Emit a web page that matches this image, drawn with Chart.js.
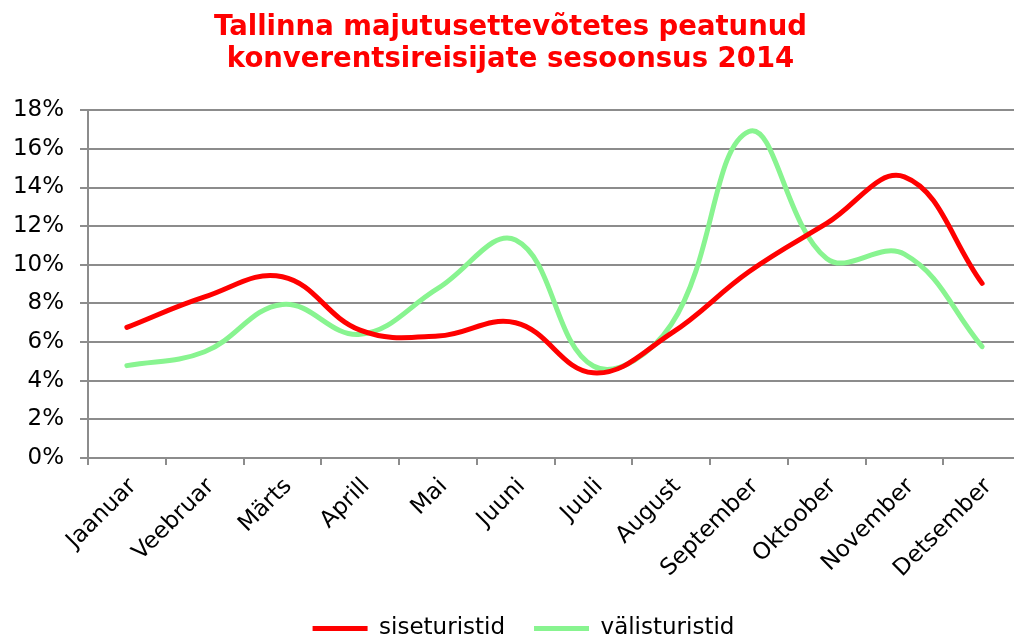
<!DOCTYPE html>
<html>
<head>
<meta charset="utf-8">
<script src="https://cdn.jsdelivr.net/npm/chart.js@4"></script>
<style>
  html, body { margin: 0; padding: 0; background: #fff; overflow: hidden; }
  #wrap { width: 1030px; height: 641px; }
</style>
</head>
<body>
<div id="wrap"><canvas id="chart" width="1030" height="641"></canvas></div>
<script>
const kuud = ["Jaanuar", "Veebruar", "Märts", "Aprill", "Mai", "Juuni", "Juuli",
  "August", "September", "Oktoober", "November", "Detsember"];
const siseturistid = [6.76, 8.34, 9.38, 6.62, 6.31, 7.0, 4.41, 6.45, 9.64, 12.14, 14.55, 9.04];
const valisturistid = [4.78, 5.5, 7.95, 6.4, 8.78, 11.28, 4.76, 6.9, 16.9, 10.33, 10.55, 5.76];
const pealkiri = ["Tallinna majutusettevõtetes peatunud", "konverentsireisijate sesoonsus 2014"];

const FONT = "'DejaVu Sans', Verdana, sans-serif";
const HALL = "#8c8c8c";

// legend sits a bit lower and to the right than chart.js puts it
const legendNihe = {
  id: "legendNihe",
  afterLayout(chart) {
    const l = chart.legend;
    l.left += 13; l.right += 13;
    l.top += 9; l.bottom += 9;
  }
};

new Chart(document.getElementById("chart"), {
  type: "line",
  data: {
    labels: kuud,
    datasets: [
      {
        label: "siseturistid",
        data: siseturistid,
        borderColor: "#ff0000",
        backgroundColor: "#ff0000",
        borderWidth: 5,
        borderCapStyle: "round",
        pointRadius: 0,
        tension: 0.4
      },
      {
        label: "välisturistid",
        data: valisturistid,
        borderColor: "#88f490",
        backgroundColor: "#88f490",
        borderWidth: 5,
        borderCapStyle: "round",
        pointRadius: 0,
        tension: 0.4
      }
    ]
  },
  options: {
    responsive: false,
    animation: false,
    layout: { padding: { left: 0, right: 9, top: 0, bottom: 0 } },
    plugins: {
      title: {
        display: true,
        text: pealkiri,
        color: "#ff0000",
        font: { family: FONT, size: 27.5, weight: "bold", lineHeight: 1.15 },
        padding: { top: 12, bottom: 35 }
      },
      legend: {
        position: "bottom",
        labels: {
          color: "#000",
          font: { family: FONT, size: 23 },
          usePointStyle: true,
          pointStyle: "line",
          pointStyleWidth: 55,
          boxHeight: 5,
          padding: 29
        }
      },
      tooltip: { enabled: false }
    },
    scales: {
      x: {
        offset: true,
        border: { color: HALL, width: 2 },
        grid: { offset: true, drawOnChartArea: false, color: HALL, lineWidth: 2, tickLength: 7 },
        ticks: {
          color: "#000",
          font: { family: FONT, size: 23 },
          minRotation: 45,
          maxRotation: 45,
          autoSkip: false,
          padding: 8,
          labelOffset: 6
        },
        afterFit: s => { s.height = 121; }
      },
      y: {
        min: 0,
        max: 18,
        border: { color: HALL, width: 2 },
        grid: { color: HALL, lineWidth: 2, tickLength: 8 },
        ticks: {
          stepSize: 2,
          color: "#000",
          font: { family: FONT, size: 23 },
          padding: 16,
          callback: v => v + "%"
        },
        afterFit: s => { s.width = 88; }
      }
    }
  },
  plugins: [legendNihe]
});
</script>
</body>
</html>
